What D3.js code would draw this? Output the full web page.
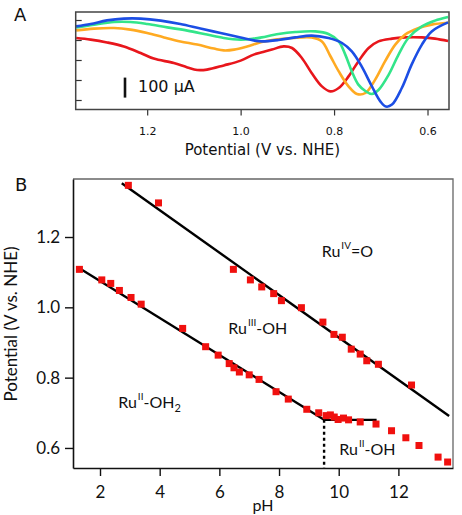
<!DOCTYPE html>
<html>
<head>
<meta charset="utf-8">
<script src="https://cdn.jsdelivr.net/npm/d3@7"></script>
<style>
  body { margin: 0; background: #fff; }
  svg text { font-family: 'DejaVu Sans', sans-serif; fill: #111; }
  .lato text, text.lato { font-family: Lato, 'Open Sans', sans-serif; }
</style>
</head>
<body>
<div id="chart"></div>
<script>
// ---- panel A: square wave voltammograms (potential V, current uA) ----
const potRed = [1.352, 1.321, 1.286, 1.250, 1.214, 1.186, 1.143, 1.114, 1.093, 1.072, 1.036, 1.000, 0.972, 0.952, 0.933, 0.908, 0.890, 0.869, 0.848, 0.826, 0.808, 0.790, 0.769, 0.748, 0.726, 0.705, 0.676, 0.648, 0.612, 0.584, 0.556]
const curRed = [-90, -98, -112, -132, -165, -193, -215, -237, -250, -248, -227, -203, -173, -160, -148, -132, -140, -190, -265, -332, -357, -340, -282, -207, -140, -107, -93, -87, -87, -93, -105]
const potOrange = [1.352, 1.314, 1.271, 1.236, 1.200, 1.164, 1.129, 1.093, 1.057, 1.036, 1.014, 0.986, 0.955, 0.926, 0.890, 0.848, 0.826, 0.808, 0.790, 0.769, 0.751, 0.733, 0.712, 0.691, 0.669, 0.648, 0.619, 0.591, 0.556]
const curOrange = [-52, -43, -40, -48, -65, -87, -107, -123, -143, -152, -148, -132, -110, -98, -90, -87, -107, -180, -257, -332, -370, -365, -298, -207, -123, -73, -40, -23, -14]
const potGreen = [1.352, 1.314, 1.271, 1.236, 1.200, 1.157, 1.114, 1.072, 1.036, 1.000, 0.972, 0.955, 0.919, 0.883, 0.840, 0.812, 0.790, 0.776, 0.762, 0.748, 0.733, 0.719, 0.705, 0.683, 0.662, 0.641, 0.612, 0.584, 0.556]
const curGreen = [-37, -23, -10, -10, -20, -37, -53, -73, -90, -98, -93, -87, -70, -60, -57, -70, -107, -173, -257, -323, -355, -370, -350, -273, -173, -90, -32, -3, 15]
const potBlue = [1.352, 1.321, 1.286, 1.250, 1.214, 1.171, 1.129, 1.086, 1.043, 1.000, 0.972, 0.955, 0.919, 0.883, 0.848, 0.812, 0.783, 0.762, 0.741, 0.719, 0.701, 0.689, 0.676, 0.655, 0.634, 0.612, 0.591, 0.556]
const curBlue = [-32, -20, -2, 7, 7, -3, -20, -43, -65, -87, -102, -107, -100, -87, -78, -90, -115, -157, -232, -332, -407, -433, -423, -340, -223, -123, -57, -12]
const ticksA_x = [1.2, 1.0, 0.8, 0.6]
const ticksA_y = [0, -100, -200, -300, -400]

// ---- panel B: Pourbaix diagram ----
const upperPH = [2.95, 3.96, 6.47, 7.04, 7.42, 7.82, 8.08, 8.75, 9.47, 9.84, 10.12, 10.42, 10.72, 10.94, 11.33, 12.44]
const upperE = [1.347, 1.297, 1.108, 1.078, 1.058, 1.039, 1.019, 0.999, 0.958, 0.923, 0.915, 0.881, 0.867, 0.848, 0.838, 0.779]
const lowerPH = [1.31, 2.06, 2.36, 2.65, 3.04, 3.38, 4.77, 5.54, 5.96, 6.33, 6.49, 6.67, 7.0, 7.33, 7.90, 8.31, 8.93, 9.33, 9.58, 9.72, 9.85, 9.98, 10.16, 10.33, 10.72, 11.25, 11.77, 12.25, 12.69, 13.33, 13.65]
const lowerE = [1.108, 1.078, 1.068, 1.048, 1.028, 1.009, 0.940, 0.888, 0.864, 0.840, 0.828, 0.816, 0.808, 0.795, 0.760, 0.739, 0.710, 0.700, 0.692, 0.694, 0.688, 0.681, 0.685, 0.680, 0.674, 0.668, 0.649, 0.629, 0.607, 0.574, 0.560]
const fitIV_PH = [2.73, 13.70], fitIV_E = [1.353, 0.691]
const fitIII_PH = [1.31, 9.51], fitIII_E = [1.111, 0.680]
const fitII_PH = [9.51, 11.27], fitII_E = [0.680, 0.680]
const pKa = 9.51
const ticksB_x = [2, 4, 6, 8, 10, 12]
const ticksB_y = [0.6, 0.8, 1.0, 1.2]

const svg = d3.select('#chart').append('svg').attr('width', 462).attr('height', 515)

// ================= panel A =================
const xA = d3.scaleLinear().domain([1.353, 0.554]).range([75.7, 449])
const yA = d3.scaleLinear().domain([40, -447.5]).range([12, 109.5])

svg.append('text').text('A').attr('x', 14).attr('y', 21).attr('style', 'font-size: 18px;')

// bottom axis, ticks outward
const axA = svg.append('g').attr('transform', 'translate(0,' + yA.range()[1] + ')')
  .call(d3.axisBottom(xA).tickValues(ticksA_x).tickFormat(d3.format('.1f')).tickSize(6).tickPadding(12).tickSizeOuter(0))
axA.select('.domain').remove()
axA.selectAll('text').attr('style', 'font-size: 11px;')
axA.selectAll('line').attr('stroke', '#333').attr('stroke-width', 1.2)

// left axis, ticks inward, no labels
const ayA = svg.append('g').attr('transform', 'translate(' + xA.range()[0] + ',0)')
  .call(d3.axisLeft(yA).tickValues(ticksA_y).tickFormat('').tickSize(-6).tickSizeOuter(0))
ayA.select('.domain').remove()
ayA.selectAll('line').attr('stroke', '#333').attr('stroke-width', 1.2)

const lineA = d3.line().x(d => xA(d[0])).y(d => yA(d[1])).curve(d3.curveCatmullRom.alpha(0.5))
const seriesA = [
  [potRed, curRed, '#e8161c'],
  [potOrange, curOrange, '#ffaa22'],
  [potGreen, curGreen, '#33e58a'],
  [potBlue, curBlue, '#1c4ee4']
]
const clipA = svg.append('clipPath').attr('id', 'clipA').append('rect')
  .attr('x', xA.range()[0]).attr('y', yA.range()[0])
  .attr('width', xA.range()[1] - xA.range()[0]).attr('height', yA.range()[1] - yA.range()[0])
const gA = svg.append('g').attr('clip-path', 'url(#clipA)')
seriesA.forEach(s => {
  gA.append('path').datum(d3.zip(s[0], s[1]))
    .attr('d', lineA).attr('fill', 'none').attr('stroke', s[2]).attr('stroke-width', 2.6)
})

svg.append('rect').attr('x', xA.range()[0]).attr('y', yA.range()[0])
  .attr('width', xA.range()[1] - xA.range()[0]).attr('height', yA.range()[1] - yA.range()[0])
  .attr('fill', 'none').attr('stroke', '#444').attr('stroke-width', 1.5)

// 100 uA scale bar
svg.append('line').attr('x1', 125).attr('x2', 125).attr('y1', yA(-288)).attr('y2', yA(-388))
  .attr('stroke', '#111').attr('stroke-width', 2.6)
svg.append('text').text('100 μA').attr('x', 138).attr('y', 91.5).attr('style', 'font-size: 16px;')

svg.append('text').text('Potential (V vs. NHE)').attr('x', (xA.range()[0] + xA.range()[1]) / 2).attr('y', 155)
  .attr('text-anchor', 'middle').attr('style', 'font-size: 15px;')

// ================= panel B =================
const xB = d3.scaleLinear().domain([1.095, 13.83]).range([73, 453])
const yB = d3.scaleLinear().domain([0.543, 1.365]).range([468, 179])

svg.append('text').text('B').attr('x', 15).attr('y', 191).attr('style', 'font-size: 18px;')

// top and right frame
svg.append('path')
  .attr('d', 'M' + xB.range()[0] + ',' + yB.range()[1] + 'H' + xB.range()[1] + 'V' + yB.range()[0])
  .attr('fill', 'none').attr('stroke', '#666').attr('stroke-width', 1.3)

const axB = svg.append('g').attr('class', 'lato').attr('transform', 'translate(0,' + yB.range()[0] + ')')
  .call(d3.axisBottom(xB).tickValues(ticksB_x).tickSize(8).tickPadding(10).tickSizeOuter(0))
const ayB = svg.append('g').attr('class', 'lato').attr('transform', 'translate(' + xB.range()[0] + ',0)')
  .call(d3.axisLeft(yB).tickValues(ticksB_y).tickFormat(d3.format('.1f')).tickSize(8).tickPadding(5).tickSizeOuter(0))
;[axB, ayB].forEach(a => {
  a.selectAll('text').attr('style', 'font-size: 17px;').attr('fill', '#111')
  a.selectAll('line').attr('stroke', '#111').attr('stroke-width', 1.4)
  a.select('.domain').attr('stroke', '#111').attr('stroke-width', 1.6)
})

svg.append('text').attr('class', 'lato').text('pH')
  .attr('x', (xB.range()[0] + xB.range()[1]) / 2).attr('y', 511)
  .attr('text-anchor', 'middle').attr('style', 'font-size: 16px;')
svg.append('text').attr('class', 'lato').text('Potential (V vs. NHE)')
  .attr('transform', 'translate(17,324) rotate(-90)')
  .attr('text-anchor', 'middle').attr('style', 'font-size: 17px;')

// fitted lines
const lineB = d3.line().x(d => xB(d[0])).y(d => yB(d[1]))
;[[fitIV_PH, fitIV_E], [fitIII_PH, fitIII_E], [fitII_PH, fitII_E]].forEach(f => {
  svg.append('path').datum(d3.zip(f[0], f[1])).attr('d', lineB)
    .attr('fill', 'none').attr('stroke', '#000').attr('stroke-width', 2.4)
})
svg.append('line').attr('x1', xB(pKa)).attr('x2', xB(pKa))
  .attr('y1', yB(fitII_E[0])).attr('y2', yB.range()[0])
  .attr('stroke', '#000').attr('stroke-width', 2.4).attr('stroke-dasharray', '3,3')

// data points
const sq = 7
const pts = d3.zip(upperPH, upperE).concat(d3.zip(lowerPH, lowerE))
svg.append('g').selectAll('rect').data(pts).enter().append('rect')
  .attr('x', d => xB(d[0]) - sq / 2).attr('y', d => yB(d[1]) - sq / 2)
  .attr('width', sq).attr('height', sq).attr('fill', '#f0100e')

// region labels
function ruLabel (ph, e, ox, tail, sub) {
  const t = svg.append('text').attr('class', 'lato').attr('x', xB(ph)).attr('y', yB(e))
    .attr('style', 'font-size: 16px;')
  t.append('tspan').text('Ru')
  t.append('tspan').text(ox).attr('dy', -8).attr('dx', 1).attr('style', 'font-size: 10px;')
  t.append('tspan').text(tail).attr('dy', 8)
  if (sub) t.append('tspan').text(sub).attr('dy', 4).attr('style', 'font-size: 11px;')
}
ruLabel(9.43, 1.143, 'IV', '=O')
ruLabel(6.30, 0.924, 'III', '-OH')
ruLabel(2.61, 0.715, 'II', '-OH', '2')
ruLabel(10.02, 0.580, 'II', '-OH')
</script>
</body>
</html>
